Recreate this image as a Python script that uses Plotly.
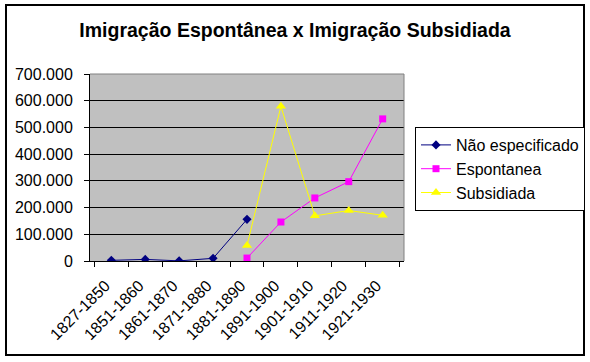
import plotly.graph_objects as go

categories = ["1827-1850", "1851-1860", "1861-1870", "1871-1880", "1881-1890",
              "1891-1900", "1901-1910", "1911-1920", "1921-1930"]
nao_especificado = [2500, 6000, 500, 10000, 156000, None, None, None, None]
espontanea = [None, None, None, None, 11000, 146000, 236000, 297000, 532000]
subsidiada = [None, None, None, None, 58000, 579000, 169000, 189000, 171000]
y_ticks = [0, 100000, 200000, 300000, 400000, 500000, 600000, 700000]

FONT = "Liberation Sans, Arial, sans-serif"

fig = go.Figure()
fig.add_trace(go.Scatter(x=categories, y=nao_especificado, name="Não especificado",
                         mode="lines+markers", line=dict(color="#000080", width=1),
                         marker=dict(symbol="diamond", size=7, color="#000080")))
fig.add_trace(go.Scatter(x=categories, y=espontanea, name="Espontanea",
                         mode="lines+markers", line=dict(color="#FF00FF", width=1),
                         marker=dict(symbol="square", size=7, color="#FF00FF")))
fig.add_trace(go.Scatter(x=categories, y=subsidiada, name="Subsidiada",
                         mode="lines+markers", line=dict(color="#FFFF00", width=1),
                         marker=dict(symbol="triangle-up", size=9, color="#FFFF00")))

fig.update_layout(
    width=590, height=362,
    margin=dict(l=90, r=186, t=74, b=101, autoexpand=False),
    paper_bgcolor="white", plot_bgcolor="#C0C0C0",
    separators=",.",
    font=dict(family=FONT, size=16, color="black"),
    title=dict(text="<b>Imigração Espontânea x Imigração Subsidiada</b>",
               x=0.5, xref="container", xanchor="center",
               y=1 - 30 / 362, yref="container", yanchor="middle",
               font=dict(family=FONT, size=19.5, color="black")),
    showlegend=True,
    legend=dict(x=(415 - 90) / 314, xanchor="left", y=(261 - 127) / 187, yanchor="top",
                bgcolor="white", bordercolor="black", borderwidth=1,
                font=dict(family=FONT, size=16, color="black"),
                itemwidth=30, tracegroupgap=0),
    xaxis=dict(type="category", tickangle=-45, tickson="boundaries",
               ticks="outside", ticklen=5, tickcolor="black",
               ticklabelstandoff=8, ticklabelshift=-6,
               showline=True, linecolor="black", linewidth=1,
               showgrid=False, zeroline=False, automargin=False,
               tickfont=dict(family=FONT, size=16, color="black")),
    yaxis=dict(range=[0, 700000], tickvals=y_ticks, tickformat=",d",
               ticks="outside", ticklen=5, tickcolor="black",
               ticklabelstandoff=8,
               showline=True, linecolor="black", linewidth=1,
               showgrid=True, gridcolor="black", gridwidth=1,
               zeroline=False, automargin=False,
               tickfont=dict(family=FONT, size=16, color="black")),
    shapes=[
        dict(type="line", xref="paper", yref="paper", x0=0, x1=1, y0=1, y1=1,
             line=dict(color="#808080", width=1), layer="above"),
        dict(type="line", xref="paper", yref="paper", x0=1, x1=1, y0=0, y1=1,
             line=dict(color="#808080", width=1), layer="above"),
        dict(type="rect", xref="paper", yref="paper",
             x0=(6 - 90) / 314, x1=(584 - 90) / 314,
             y0=(261 - 355) / 187, y1=(261 - 5) / 187,
             line=dict(color="black", width=2), layer="below"),
    ],
)

fig.write_html("out.html", config={"displayModeBar": False},
               post_script="document.body.style.margin='0px';document.body.style.padding='0px';")
